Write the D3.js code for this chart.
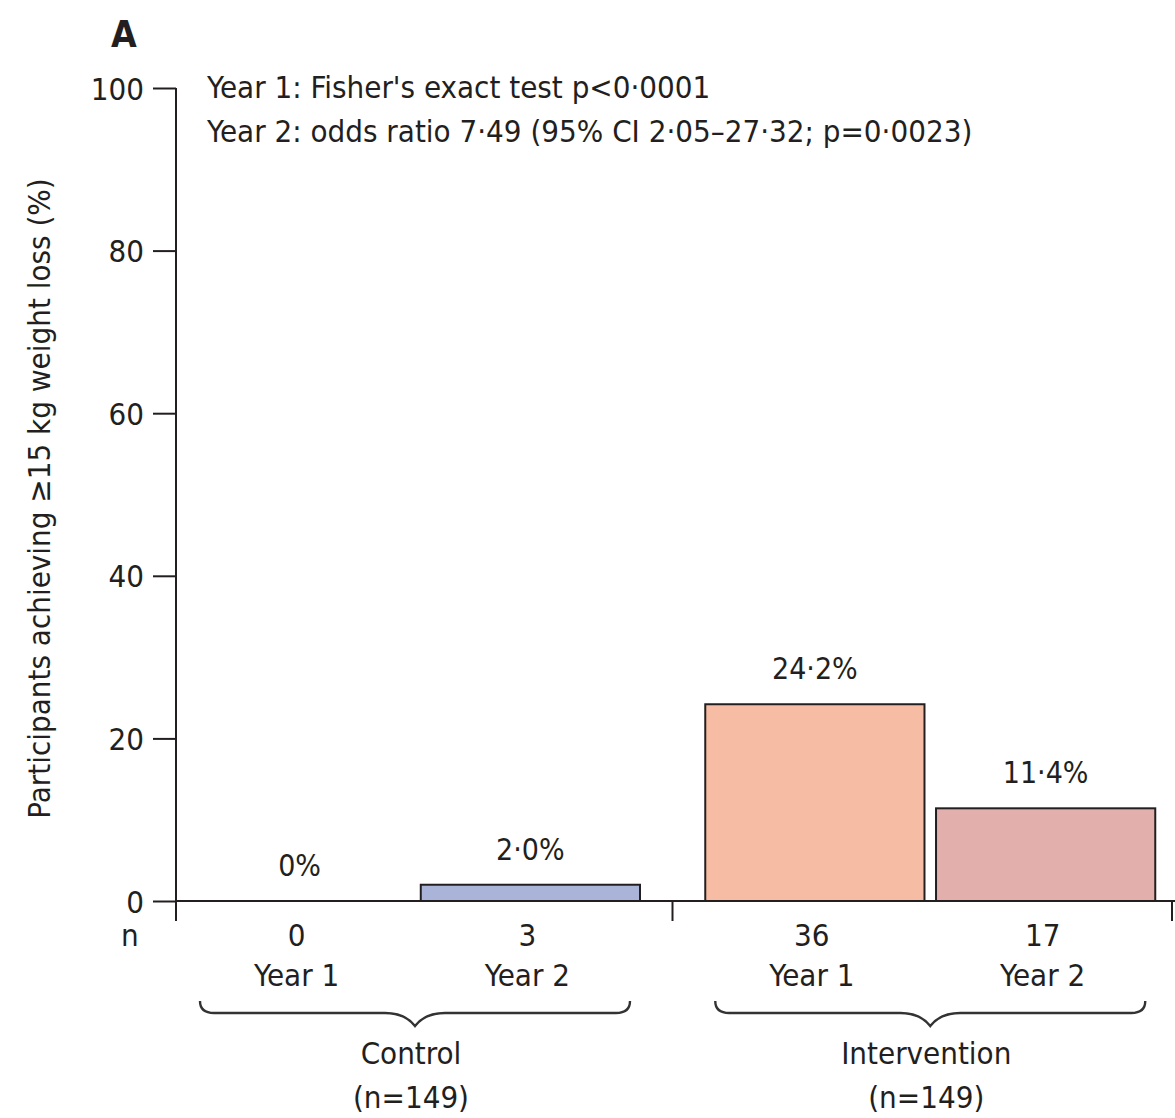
<!DOCTYPE html>
<html>
<head>
<meta charset="utf-8">
<script src="https://cdn.jsdelivr.net/npm/d3@7"></script>
<style>
  html, body { margin: 0; padding: 0; background: #fff; }
  svg text { font-family: "DejaVu Sans Condensed", "Liberation Sans Narrow", "Open Sans", sans-serif; fill: #231f20; }
</style>
</head>
<body>
<svg id="chart" width="1175" height="1118"></svg>
<script>
// Participants reaching >=15 kg weight loss, by arm and year
const groups = ["Control", "Intervention"];
const groupSizes = [149, 149];
const years = ["Year 1", "Year 2"];
const controlPercent = [0, 2.0];
const interventionPercent = [24.2, 11.4];
const controlCounts = [0, 3];
const interventionCounts = [36, 17];
const yTicks = [0, 20, 40, 60, 80, 100];
const statLines = [
  "Year 1: Fisher's exact test p<0\u00b70001",
  "Year 2: odds ratio 7\u00b749 (95% CI 2\u00b705\u201327\u00b732; p=0\u00b70023)"
];

const percentByGroup = [controlPercent, interventionPercent];
const countsByGroup = [controlCounts, interventionCounts];
const fills = [["#aab4d9", "#aab4d9"], ["#f7bca4", "#e2afac"]];

const svg = d3.select("#chart");
const axisX = 176, axisRight = 1175, endTick = 1172;
const fs = 31;

const y = d3.scaleLinear().domain([0, 100]).range([901, 88]);
const xGroup = d3.scaleBand().domain(groups).range([166, 1179]).paddingInner(0.034);
const xYear = d3.scaleBand().domain(years).range([24, 474]).paddingInner(0.05);

const fmt = v => v === 0 ? "0%" : d3.format(".1f")(v).replace(".", "\u00b7") + "%";

// panel letter
svg.append("text").attr("x", 111).attr("y", 47)
  .attr("font-size", 37).attr("font-weight", "bold").text("A");

// y axis
const yAxis = d3.axisLeft(y).tickValues(yTicks).tickSize(23).tickSizeOuter(0).tickPadding(9);
const gy = svg.append("g").attr("transform", `translate(${axisX},0)`).call(yAxis);
gy.select(".domain").remove();
gy.selectAll("line").attr("stroke", "#231f20").attr("stroke-width", 2);
gy.selectAll("text").attr("font-size", fs).attr("font-family", null).attr("dy", "0.36em");
svg.append("line").attr("x1", axisX).attr("x2", axisX).attr("y1", y(100)).attr("y2", y(0) + 20)
  .attr("stroke", "#231f20").attr("stroke-width", 2);

// y axis title
svg.append("text")
  .attr("transform", `translate(50,${(y(100) + y(0)) / 2 + 4}) rotate(-90)`)
  .attr("text-anchor", "middle").attr("font-size", fs)
  .text("Participants achieving \u226515 kg weight loss (%)");

// statistics notes
svg.selectAll("text.stat").data(statLines).join("text").attr("class", "stat")
  .attr("x", 207).attr("y", (d, i) => 98 + i * 44)
  .attr("font-size", fs).text(d => d);

// bars, value labels, counts
groups.forEach((g, gi) => {
  const gx = xGroup(g);
  const gSel = svg.append("g").attr("transform", `translate(${gx},0)`);
  years.forEach((yr, yi) => {
    const v = percentByGroup[gi][yi];
    const bx = xYear(yr), bw = xYear.bandwidth();
    if (v > 0) {
      gSel.append("rect").attr("x", bx).attr("y", y(v)).attr("width", bw).attr("height", y(0) - y(v))
        .attr("fill", fills[gi][yi]).attr("stroke", "#231f20").attr("stroke-width", 2);
    }
    gSel.append("text").attr("x", bx + bw / 2).attr("y", y(v) - 25)
      .attr("text-anchor", "middle").attr("font-size", fs - 1).text(fmt(v));
    gSel.append("text").attr("x", bx + bw / 2 - 3).attr("y", 946)
      .attr("text-anchor", "middle").attr("font-size", fs).text(countsByGroup[gi][yi]);
    gSel.append("text").attr("x", bx + bw / 2 - 3).attr("y", 986)
      .attr("text-anchor", "middle").attr("font-size", fs).text(yr);
  });

  // curly brace under each arm
  const x1 = gx + 34, x2 = gx + 464, xm = (x1 + x2) / 2, by = 1013;
  svg.append("path")
    .attr("d", `M${x1},${by - 12} Q${x1},${by} ${x1 + 14},${by} L${xm - 30},${by} ` +
               `Q${xm - 10},${by} ${xm},${by + 13} Q${xm + 10},${by} ${xm + 30},${by} ` +
               `L${x2 - 14},${by} Q${x2},${by} ${x2},${by - 12}`)
    .attr("fill", "none").attr("stroke", "#333").attr("stroke-width", 2.4);
  svg.append("text").attr("x", xm - 4).attr("y", 1064).attr("text-anchor", "middle")
    .attr("font-size", fs).text(g);
  svg.append("text").attr("x", xm - 4).attr("y", 1108).attr("text-anchor", "middle")
    .attr("font-size", fs).text(`(n=${groupSizes[gi]})`);
});

// x axis baseline and separators
svg.append("line").attr("x1", axisX).attr("x2", axisRight).attr("y1", y(0)).attr("y2", y(0))
  .attr("stroke", "#231f20").attr("stroke-width", 2);
const sepX = [(xGroup("Control") + xGroup.bandwidth() + xGroup("Intervention")) / 2, endTick];
svg.selectAll("line.sep").data(sepX).join("line").attr("class", "sep")
  .attr("x1", d => d).attr("x2", d => d).attr("y1", y(0)).attr("y2", y(0) + 20)
  .attr("stroke", "#231f20").attr("stroke-width", 2);

// row label for counts
svg.append("text").attr("x", 121).attr("y", 946).attr("font-size", fs).text("n");
</script>
</body>
</html>
